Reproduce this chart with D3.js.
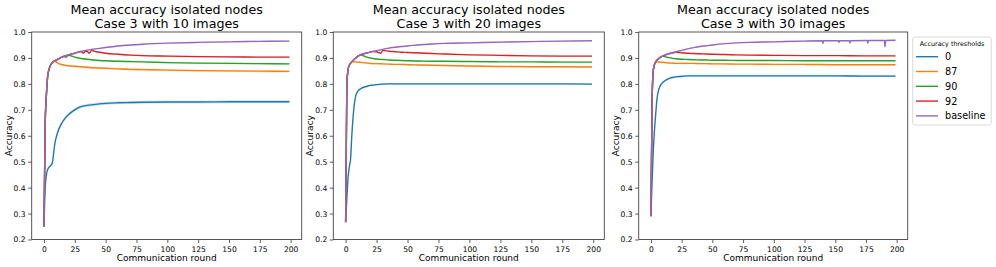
<!DOCTYPE html>
<html>
<head>
<meta charset="utf-8">
<script src="https://cdn.jsdelivr.net/npm/d3@7"></script>
<style>
  body { margin: 0; background: #fff; }
  text { font-family: "DejaVu Sans", sans-serif; fill: #000; }
</style>
</head>
<body>
<div id="chart"></div>
<script>
var rounds = [0,1,2,3,4,5,6,7,8,9,10,12,14,16,18,20,22,25,30,35,40,45,50,60,70,80,100,125,150,175,199];

var thresholds = ["0", "87", "90", "92", "baseline"];
var xTicks = [0,25,50,75,100,125,150,175,200];
var yTicks = [0.2,0.3,0.4,0.5,0.6,0.7,0.8,0.9,1.0];
var imageCounts = [10, 20, 30];

// case 3, 10 images
var acc0_10  = [0.25,0.40,0.45,0.47,0.478,0.483,0.488,0.50,0.54,0.575,0.595,0.625,0.645,0.66,0.672,0.682,0.69,0.70,0.712,0.717,0.72,0.723,0.725,0.727,0.728,0.729,0.73,0.73,0.731,0.731,0.731];
var acc87_10 = [0.25,0.65,0.76,0.83,0.855,0.868,0.877,0.883,0.887,0.889,0.884,0.878,0.875,0.873,0.871,0.87,0.869,0.868,0.866,0.864,0.862,0.861,0.86,0.858,0.856,0.855,0.853,0.851,0.85,0.849,0.848];
var acc90_10 = [0.25,0.65,0.76,0.83,0.855,0.868,0.877,0.883,0.887,0.89,0.892,0.897,0.902,0.906,0.903,0.911,0.908,0.903,0.898,0.895,0.892,0.89,0.889,0.887,0.886,0.885,0.882,0.88,0.879,0.878,0.877];
var acc92_10 = [0.25,0.65,0.76,0.83,0.855,0.868,0.877,0.883,0.887,0.89,0.892,0.897,0.902,0.906,0.909,0.912,0.915,0.918,0.925,0.926,0.927,0.922,0.918,0.914,0.911,0.909,0.907,0.905,0.904,0.903,0.903];
var base_10  = [0.25,0.65,0.76,0.83,0.855,0.868,0.877,0.883,0.887,0.89,0.892,0.897,0.902,0.906,0.909,0.912,0.915,0.918,0.925,0.93,0.934,0.937,0.94,0.946,0.95,0.953,0.957,0.96,0.962,0.964,0.965];
var acc92Extra_10 = [[32,0.919],[33.5,0.926],[36.5,0.918],[39,0.931]];
var spread_10 = [0.006, 0.004, 0.003, 0.003, 0.002];

// case 3, 20 images
var acc0_20  = [0.267,0.36,0.44,0.48,0.51,0.60,0.67,0.72,0.75,0.765,0.773,0.781,0.786,0.789,0.792,0.794,0.795,0.797,0.799,0.8,0.8,0.8,0.8,0.8,0.8,0.8,0.8,0.8,0.8,0.8,0.799];
var acc87_20 = [0.267,0.80,0.855,0.872,0.88,0.885,0.886,0.885,0.885,0.884,0.884,0.883,0.882,0.881,0.88,0.879,0.878,0.878,0.877,0.876,0.875,0.875,0.874,0.873,0.872,0.871,0.869,0.867,0.866,0.866,0.865];
var acc90_20 = [0.267,0.80,0.855,0.872,0.88,0.885,0.89,0.895,0.899,0.903,0.907,0.912,0.909,0.905,0.902,0.9,0.898,0.896,0.894,0.892,0.891,0.89,0.889,0.888,0.887,0.887,0.886,0.885,0.885,0.884,0.884];
var acc92_20 = [0.267,0.80,0.855,0.872,0.88,0.885,0.89,0.895,0.899,0.903,0.907,0.912,0.915,0.918,0.92,0.923,0.925,0.924,0.929,0.926,0.924,0.922,0.921,0.919,0.917,0.915,0.912,0.91,0.908,0.907,0.907];
var base_20  = [0.267,0.80,0.855,0.872,0.88,0.885,0.89,0.895,0.899,0.903,0.907,0.912,0.915,0.918,0.92,0.923,0.925,0.928,0.933,0.938,0.941,0.944,0.946,0.951,0.954,0.956,0.958,0.961,0.963,0.965,0.966];
var acc92Extra_20 = [[27,0.92],[28.5,0.918]];
var spread_20 = [0.003, 0.003, 0.002, 0.002, 0.002];

// case 3, 30 images
var acc0_30  = [0.293,0.43,0.55,0.63,0.69,0.745,0.772,0.787,0.796,0.802,0.807,0.814,0.819,0.823,0.825,0.827,0.828,0.829,0.831,0.831,0.831,0.831,0.831,0.831,0.831,0.831,0.831,0.831,0.831,0.830,0.830];
var acc87_30 = [0.29,0.75,0.855,0.876,0.884,0.885,0.885,0.884,0.884,0.883,0.883,0.882,0.881,0.88,0.88,0.879,0.879,0.879,0.879,0.879,0.878,0.878,0.877,0.877,0.876,0.876,0.875,0.875,0.874,0.874,0.874];
var acc90_30 = [0.29,0.75,0.855,0.876,0.886,0.892,0.896,0.9,0.903,0.906,0.906,0.904,0.902,0.9,0.898,0.897,0.896,0.895,0.894,0.893,0.892,0.892,0.891,0.891,0.89,0.89,0.89,0.889,0.889,0.889,0.889];
var acc92_30 = [0.29,0.75,0.855,0.876,0.886,0.892,0.896,0.9,0.903,0.906,0.908,0.912,0.915,0.918,0.92,0.922,0.921,0.92,0.918,0.917,0.916,0.915,0.914,0.913,0.912,0.911,0.91,0.909,0.909,0.908,0.908];
var base_30  = [0.29,0.75,0.855,0.876,0.886,0.892,0.896,0.9,0.903,0.906,0.908,0.912,0.915,0.918,0.92,0.923,0.926,0.929,0.935,0.94,0.944,0.947,0.95,0.955,0.958,0.96,0.962,0.965,0.966,0.967,0.968];
var baseExtra_30 = [[139.5,0.966],[140,0.956],[140.5,0.966],[152.5,0.966],[153,0.96],[153.5,0.966],[161.5,0.966],[162,0.957],[162.5,0.966],[176,0.967],[176.5,0.957],[177,0.967],[190,0.967],[190.5,0.943],[191,0.967]];
var spread_30 = [0.004, 0.003, 0.002, 0.002, 0.002];

var colors = ["#1f77b4", "#ff7f0e", "#2ca02c", "#d62728", "#9467bd"];

var panels = [
  { n: imageCounts[0], series: [acc0_10, acc87_10, acc90_10, acc92_10, base_10], extra: [[], [], [], acc92Extra_10, []], spread: spread_10 },
  { n: imageCounts[1], series: [acc0_20, acc87_20, acc90_20, acc92_20, base_20], extra: [[], [], [], acc92Extra_20, []], spread: spread_20 },
  { n: imageCounts[2], series: [acc0_30, acc87_30, acc90_30, acc92_30, base_30], extra: [[], [], [], [], baseExtra_30], spread: spread_30 }
];

var W = 996, H = 267;
var frames = [[31.7, 301.7], [333.3, 604.3], [638.7, 907.7]];
var plotTop = 32, plotBottom = 239.5;

var svg = d3.select("#chart").append("svg")
  .attr("width", W).attr("height", H);

var y = d3.scaleLinear().domain([0.2, 1.0]).range([plotBottom, plotTop]);

panels.forEach(function (p, pi) {
  var x = d3.scaleLinear().domain([-9.95, 208.95]).range(frames[pi]);
  var g = svg.append("g");

  p.series.forEach(function (vals, si) {
    var pts = rounds.map(function (r, i) { return [r, vals[i]]; })
      .concat(p.extra[si])
      .sort(function (a, b) { return a[0] - b[0]; });
    var s = p.spread[si];

    var area = d3.area()
      .x(function (d) { return x(d[0]); })
      .y0(function (d) { return y(d[1] - s); })
      .y1(function (d) { return y(d[1] + s); })
      .curve(d3.curveMonotoneX);
    g.append("path").attr("d", area(pts.filter(function (d) { return d[0] >= 5; })))
      .attr("fill", colors[si]).attr("opacity", 0.2);

    var line = d3.line()
      .x(function (d) { return x(d[0]); })
      .y(function (d) { return y(d[1]); })
      .curve(d3.curveMonotoneX);
    g.append("path").attr("d", line(pts))
      .attr("fill", "none").attr("stroke", colors[si])
      .attr("stroke-width", 1.4).attr("stroke-linejoin", "round");
  });

  // axes
  var xa = g.append("g").attr("transform", "translate(0," + plotBottom + ")")
    .call(d3.axisBottom(x).tickValues(xTicks).tickSize(3.5).tickPadding(3.5));
  var ya = g.append("g").attr("transform", "translate(" + frames[pi][0] + ",0)")
    .call(d3.axisLeft(y).tickValues(yTicks).tickSize(3.5).tickPadding(2.5).tickFormat(d3.format(".1f")));
  [xa, ya].forEach(function (a) {
    a.select(".domain").remove();
    a.selectAll("line").attr("stroke", "#333").attr("stroke-width", 0.8);
    a.selectAll("text").attr("font-size", 7.6).attr("font-family", "DejaVu Sans").attr("fill", "#000");
  });

  g.append("rect")
    .attr("x", frames[pi][0]).attr("y", plotTop)
    .attr("width", frames[pi][1] - frames[pi][0]).attr("height", plotBottom - plotTop)
    .attr("fill", "none").attr("stroke", "#444").attr("stroke-width", 0.9);

  var cx = (frames[pi][0] + frames[pi][1]) / 2;
  g.append("text").attr("x", cx).attr("y", 14).attr("text-anchor", "middle")
    .attr("font-size", 12.7).text("Mean accuracy isolated nodes");
  g.append("text").attr("x", cx).attr("y", 28).attr("text-anchor", "middle")
    .attr("font-size", 12.7).text("Case 3 with " + p.n + " images");

  g.append("text").attr("x", cx).attr("y", 260.5).attr("text-anchor", "middle")
    .attr("font-size", 9).text("Communication round");
  g.append("text")
    .attr("transform", "translate(" + (frames[pi][0] - 20) + "," + ((plotTop + plotBottom) / 2) + ") rotate(-90)")
    .attr("text-anchor", "middle").attr("font-size", 9).text("Accuracy");
});

// legend
var lg = svg.append("g");
lg.append("rect").attr("x", 912.7).attr("y", 37).attr("width", 78.5).attr("height", 88)
  .attr("rx", 2).attr("fill", "#fff").attr("stroke", "#d0d0d0").attr("stroke-width", 0.8);
lg.append("text").attr("x", 952).attr("y", 46).attr("text-anchor", "middle")
  .attr("font-size", 6.4).text("Accuracy thresholds");
thresholds.forEach(function (t, i) {
  var yy = 56.7 + i * 14.8;
  lg.append("line").attr("x1", 916).attr("x2", 938).attr("y1", yy).attr("y2", yy)
    .attr("stroke", colors[i]).attr("stroke-width", 1.4);
  lg.append("text").attr("x", 945).attr("y", yy + 3.5).attr("font-size", 9.7).text(t);
});
</script>
</body>
</html>
